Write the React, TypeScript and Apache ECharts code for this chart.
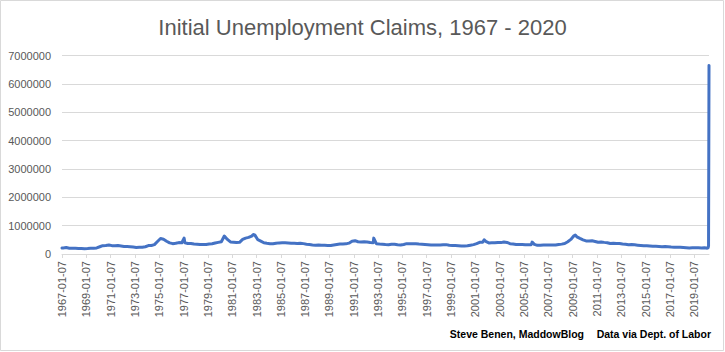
import React, { useEffect, useRef } from "react";
import * as echarts from "echarts";

// ---- Data (weekly initial claims) ----
const FIRST_DATE = "1967-01-07";
const FIRST_YEAR = 1967;
const LABEL_STEP_YEARS = 2;
const quarterMidDays = ["02-15", "05-15", "08-15", "11-15"];

// Quarterly levels 1967 Q1 .. 2019 Q4
const quarterlyClaims: number[] = [
  215000, 228000, 205000, 200000, // 1967
  200000, 194000, 192000, 188000, // 1968
  190000, 199000, 203000, 214000, // 1969
  255000, 295000, 302000, 318000, // 1970
  295000, 291000, 296000, 280000, // 1971
  265000, 262000, 258000, 244000, // 1972
  230000, 236000, 242000, 256000, // 1973
  298000, 302000, 330000, 440000, // 1974
  545000, 520000, 450000, 392000, // 1975
  365000, 378000, 402000, 398000, // 1976
  395000, 372000, 370000, 350000, // 1977
  345000, 335000, 336000, 338000, // 1978
  355000, 360000, 388000, 410000, // 1979
  430000, 635000, 515000, 425000, // 1980
  415000, 405000, 412000, 515000, // 1981
  560000, 585000, 630000, 675000, // 1982
  505000, 455000, 395000, 378000, // 1983
  365000, 360000, 378000, 392000, // 1984
  398000, 393000, 388000, 378000, // 1985
  376000, 370000, 380000, 366000, // 1986
  343000, 333000, 316000, 308000, // 1987
  317000, 311000, 305000, 300000, // 1988
  302000, 320000, 338000, 356000, // 1989
  354000, 358000, 383000, 452000, // 1990
  470000, 432000, 420000, 428000, // 1991
  425000, 405000, 398000, 365000, // 1992
  351000, 342000, 332000, 325000, // 1993
  343000, 346000, 327000, 318000, // 1994
  336000, 365000, 364000, 364000, // 1995
  362000, 352000, 346000, 338000, // 1996
  328000, 320000, 321000, 315000, // 1997
  317000, 327000, 330000, 306000, // 1998
  300000, 302000, 295000, 286000, // 1999
  281000, 288000, 311000, 331000, // 2000
  365000, 413000, 416000, 444000, // 2001
  392000, 397000, 393000, 403000, // 2002
  402000, 426000, 407000, 365000, // 2003
  350000, 337000, 336000, 336000, // 2004
  323000, 328000, 330000, 340000, // 2005
  306000, 311000, 317000, 318000, // 2006
  320000, 316000, 315000, 334000, // 2007
  348000, 368000, 432000, 515000, // 2008
  640000, 605000, 550000, 500000, // 2009
  462000, 456000, 464000, 442000, // 2010
  412000, 425000, 410000, 398000, // 2011
  370000, 381000, 370000, 372000, // 2012
  354000, 346000, 327000, 331000, // 2013
  324000, 312000, 301000, 290000, // 2014
  292000, 281000, 272000, 269000, // 2015
  266000, 259000, 262000, 254000, // 2016
  246000, 242000, 242000, 236000, // 2017
  228000, 222000, 213000, 220000, // 2018
  220000, 217000, 213000, 219000, // 2019
];

// Individual weeks that stand out
const spikeDates = ["1967-01-07", "1977-01-22", "1980-05-24", "1982-10-02", "1992-08-29", "2001-09-29", "2005-09-10", "2009-03-28"];
const spikeValues = [208000, 560000, 645000, 685000, 560000, 500000, 420000, 665000];

// 2020 weeks
const tailDates = ["2020-01-04", "2020-01-18", "2020-02-01", "2020-02-15", "2020-02-29", "2020-03-07", "2020-03-14", "2020-03-21", "2020-03-28"];
const tailValues = [214000, 207000, 203000, 211000, 217000, 211000, 282000, 3307000, 6648000];

const yTicks = [0, 1000000, 2000000, 3000000, 4000000, 5000000, 6000000, 7000000];

// ---- helpers ----
const DAY = 86400000;
const BASE = Date.parse(FIRST_DATE + "T00:00:00Z");
const dayOf = (s: string) => (Date.parse(s + "T00:00:00Z") - BASE) / DAY;
const LABEL_STEP_DAYS = 365.25 * LABEL_STEP_YEARS;

function buildPoints(): [number, number][] {
  const pts: [number, number][] = [];
  quarterlyClaims.forEach((v, i) => {
    const y = FIRST_YEAR + Math.floor(i / 4);
    pts.push([dayOf(`${y}-${quarterMidDays[i % 4]}`), v]);
  });
  spikeDates.forEach((d, i) => pts.push([dayOf(d), spikeValues[i]]));
  tailDates.forEach((d, i) => pts.push([dayOf(d), tailValues[i]]));
  pts.sort((a, b) => a[0] - b[0]);
  return pts;
}

const FONT = "'Liberation Sans', Arial, sans-serif";

export default function App() {
  const ref = useRef<HTMLDivElement>(null);
  useEffect(() => {
    if (!ref.current) return;
    const chart = echarts.init(ref.current, undefined, { renderer: "svg" });
    const points = buildPoints();
    const xMax = dayOf(tailDates[tailDates.length - 1]);
    chart.setOption({
      animation: false,
      backgroundColor: "#ffffff",
      title: {
        text: "Initial Unemployment Claims, 1967 - 2020",
        left: "center",
        top: 11,
        textStyle: { fontFamily: FONT, fontSize: 22, fontWeight: "normal", color: "#595959" },
      },
      grid: { left: 62, right: 16, top: 55.5, bottom: 98, containLabel: false },
      xAxis: {
        type: "value",
        min: 0,
        max: xMax,
        interval: LABEL_STEP_DAYS,
        splitLine: { show: false },
        axisLine: { show: true, lineStyle: { color: "#d9d9d9", width: 1 } },
        axisTick: { show: true, length: 4, lineStyle: { color: "#d9d9d9" } },
        axisLabel: {
          rotate: 90,
          margin: 7,
          showMaxLabel: false,
          fontFamily: FONT,
          fontSize: 11,
          color: "#595959",
          formatter: (v: number) => {
            const k = Math.round(v / LABEL_STEP_DAYS);
            if (Math.abs(v - k * LABEL_STEP_DAYS) > 1) return "";
            return `${FIRST_YEAR + LABEL_STEP_YEARS * k}-01-07`;
          },
        },
      },
      yAxis: {
        type: "value",
        min: yTicks[0],
        max: yTicks[yTicks.length - 1],
        interval: yTicks[1] - yTicks[0],
        axisLine: { show: false },
        axisTick: { show: false },
        splitLine: { lineStyle: { color: "#d9d9d9", width: 1 } },
        axisLabel: {
          margin: 11,
          fontFamily: FONT,
          fontSize: 11,
          color: "#595959",
          formatter: (v: number) => String(v),
        },
      },
      series: [
        {
          type: "line",
          data: points,
          showSymbol: false,
          symbol: "none",
          lineStyle: { color: "#4472C4", width: 3, join: "round", cap: "round" },
          itemStyle: { color: "#4472C4" },
        },
      ],
      graphic: [
        {
          type: "rect",
          shape: { x: 0.5, y: 0.5, width: 723, height: 350 },
          style: { fill: "none", stroke: "#d9d9d9", lineWidth: 1 },
          silent: true,
        },
        {
          type: "text",
          x: 584,
          y: 334,
          style: {
            text: "Steve Benen, MaddowBlog",
            fontFamily: FONT,
            fontSize: 10.5,
            fontWeight: "bold",
            fill: "#000000",
            align: "right",
            verticalAlign: "middle",
          },
        },
        {
          type: "text",
          x: 711,
          y: 334,
          style: {
            text: "Data via Dept. of Labor",
            fontFamily: FONT,
            fontSize: 10.5,
            fontWeight: "bold",
            fill: "#000000",
            align: "right",
            verticalAlign: "middle",
          },
        },
      ],
    });
    return () => chart.dispose();
  }, []);
  return (
    <div
      ref={ref}
      style={{ position: "absolute", left: 0, top: 0, width: 725, height: 352 }}
    />
  );
}
